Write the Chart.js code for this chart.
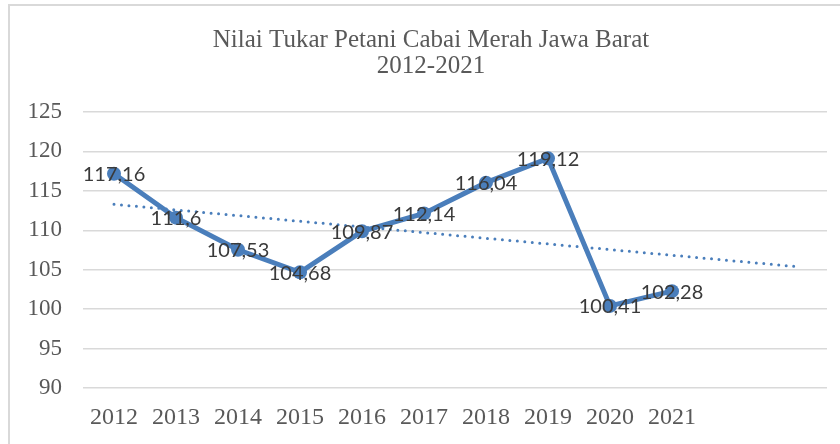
<!DOCTYPE html>
<html>
<head>
<meta charset="utf-8">
<script src="https://cdn.jsdelivr.net/npm/chart.js@4/dist/chart.umd.min.js"></script>
<style>
  html, body { margin: 0; padding: 0; background: #fff; }
  #wrap { position: relative; width: 840px; height: 444px; overflow: hidden; }
  #frame { position: absolute; left: 8px; top: 4px; width: 900px; height: 500px;
           border: 2px solid #d9d9d9; box-sizing: border-box; }
  canvas { position: absolute; left: 0; top: 0; }
</style>
</head>
<body>
<div id="wrap">
  <div id="frame"></div>
  <canvas id="grafik" width="840" height="444"></canvas>
</div>
<script>
const tahun = ["2012", "2013", "2014", "2015", "2016", "2017", "2018", "2019", "2020", "2021", "", ""];
const ntp = [117.16, 111.6, 107.53, 104.68, 109.87, 112.14, 116.04, 119.12, 100.41, 102.28];
// garis tren linear, diperpanjang 2 periode
const tren = [113.3, null, null, null, null, null, null, null, null, null, null, 105.4];
const judul = ["Nilai Tukar Petani Cabai Merah Jawa Barat", "2012-2021"];

const biru = "#4a7ebb";
const abu = "#595959";

// judul digambar sendiri supaya bisa ditengah di x=431 seperti aslinya
const judulPlugin = {
  id: "judulPlugin",
  afterDraw(chart) {
    const ctx = chart.ctx;
    ctx.save();
    ctx.font = "25px 'Liberation Serif'";
    ctx.fillStyle = abu;
    ctx.textAlign = "center";
    ctx.textBaseline = "alphabetic";
    ctx.fillText(judul[0], 431, 47);
    ctx.fillText(judul[1], 431, 73);
    ctx.restore();
  }
};

const labelNilai = {
  id: "labelNilai",
  afterDatasetsDraw(chart) {
    const ctx = chart.ctx;
    const meta = chart.getDatasetMeta(0);
    ctx.save();
    ctx.font = "20px Lato";
    ctx.fillStyle = "#3a3a3a";
    ctx.textAlign = "center";
    ctx.textBaseline = "middle";
    meta.data.forEach((pt, i) => {
      ctx.fillText(String(ntp[i]).replace(".", ","), pt.x, pt.y + 1);
    });
    ctx.restore();
  }
};

new Chart(document.getElementById("grafik"), {
  type: "line",
  data: {
    labels: tahun,
    datasets: [
      {
        data: ntp,
        borderColor: biru,
        backgroundColor: biru,
        borderWidth: 5,
        pointRadius: 7,
        pointBorderWidth: 0,
        pointBackgroundColor: biru,
        tension: 0
      },
      {
        data: tren,
        spanGaps: true,
        borderColor: biru,
        borderWidth: 3,
        borderDash: [0, 7.5],
        borderCapStyle: "round",
        pointRadius: 0
      }
    ]
  },
  options: {
    responsive: false,
    animation: false,
    layout: { padding: { left: 0, right: 13, top: 112, bottom: 0 } },
    plugins: {
      legend: { display: false },
      tooltip: { enabled: false },
      title: { display: false }
    },
    scales: {
      x: {
        offset: true,
        grid: { display: false, drawTicks: false },
        border: { display: false },
        ticks: { color: abu, padding: 15, maxRotation: 0, autoSkip: false,
                 font: { family: "Liberation Serif", size: 24 } },
        afterFit(s) { s.height = 56; }
      },
      y: {
        min: 90,
        max: 125,
        ticks: { stepSize: 5, color: abu, padding: 21,
                 font: { family: "Liberation Serif", size: 23 } },
        grid: { color: "#d9d9d9", lineWidth: 1.5, drawTicks: false },
        border: { display: false },
        afterFit(s) { s.width = 83; }
      }
    }
  },
  plugins: [labelNilai, judulPlugin]
});
</script>
</body>
</html>
